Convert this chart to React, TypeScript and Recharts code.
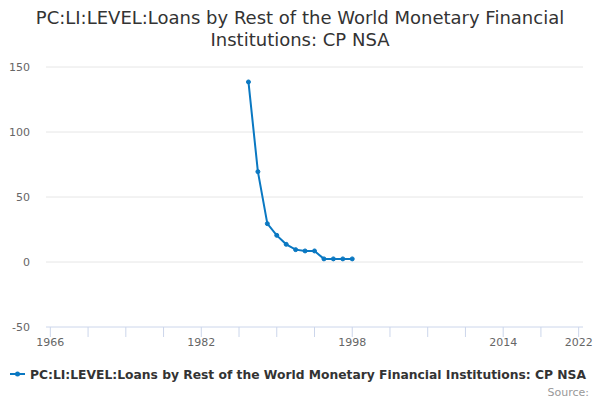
import React from 'react';
import { LineChart, Line, XAxis, YAxis, CartesianGrid } from 'recharts';

const years = [1987, 1988, 1989, 1990, 1991, 1992, 1993, 1994, 1995, 1996, 1997, 1998];
const values = [138.5, 69.5, 29.5, 20.5, 13.6, 9.5, 8.5, 8.5, 2.4, 2.4, 2.4, 2.4];
const xTicks = [1966, 1970, 1974, 1978, 1982, 1986, 1990, 1994, 1998, 2002, 2006, 2010, 2014, 2018, 2022];
const xLabels = [1966, 1982, 1998, 2014, 2022];
const yTicks = [-50, 0, 50, 100, 150];
const titleLines = ['PC:LI:LEVEL:Loans by Rest of the World Monetary Financial', 'Institutions: CP NSA'];
const seriesName = 'PC:LI:LEVEL:Loans by Rest of the World Monetary Financial Institutions: CP NSA';

const data = years.map((y, i) => ({ year: y, value: values[i] }));
const FONT = '"DejaVu Sans", sans-serif';
const COLOR = '#0a78c2';

export default function App() {
  return (
    <div style={{ position: 'absolute', left: 0, top: 0, width: 600, height: 400, fontFamily: FONT, background: '#fff' }}>
      <svg width={600} height={400} style={{ position: 'absolute', left: 0, top: 0 }}>
        <text x={300} y={24} textAnchor="middle" fontSize={18} fill="#333" fontFamily={FONT}>{titleLines[0]}</text>
        <text x={300} y={46} textAnchor="middle" fontSize={18} fill="#333" fontFamily={FONT}>{titleLines[1]}</text>
        <line x1={10} x2={25} y1={374} y2={374} stroke={COLOR} strokeWidth={2} />
        <circle cx={17.5} cy={374} r={2.5} fill={COLOR} />
        <text x={30} y={378.5} fontSize={12.3} fontWeight="bold" fill="#333" fontFamily={FONT}>{seriesName}</text>
        <text x={589} y={396} textAnchor="end" fontSize={11} fill="#999" fontFamily={FONT}>Source:</text>
      </svg>
      <div style={{ position: 'absolute', left: 0, top: 0 }}>
        <LineChart width={600} height={400} data={data} margin={{ top: 67, right: 17, bottom: 0, left: 0 }}>
          <CartesianGrid vertical={false} stroke="#e6e6e6" horizontalValues={[0, 50, 100, 150]} />
          <XAxis
            type="number"
            dataKey="year"
            domain={[1965.54, 2022.46]}
            ticks={xTicks}
            interval={0}
            tickFormatter={(v: number) => (xLabels.includes(v) ? String(v) : '')}
            stroke="#ccd6eb"
            tickSize={10}
            tickMargin={1}
            tick={{ fill: '#666', fontSize: 11, fontFamily: FONT }}
            height={73}
          />
          <YAxis
            domain={[-50, 150]}
            ticks={yTicks}
            interval={0}
            axisLine={false}
            tickLine={false}
            width={46}
            tickMargin={10}
            tick={{ fill: '#666', fontSize: 11, fontFamily: FONT }}
          />
          <Line
            type="linear"
            dataKey="value"
            stroke={COLOR}
            strokeWidth={2}
            dot={{ r: 2, fill: COLOR, stroke: COLOR, strokeWidth: 1 }}
            isAnimationActive={false}
          />
        </LineChart>
      </div>
    </div>
  );
}
